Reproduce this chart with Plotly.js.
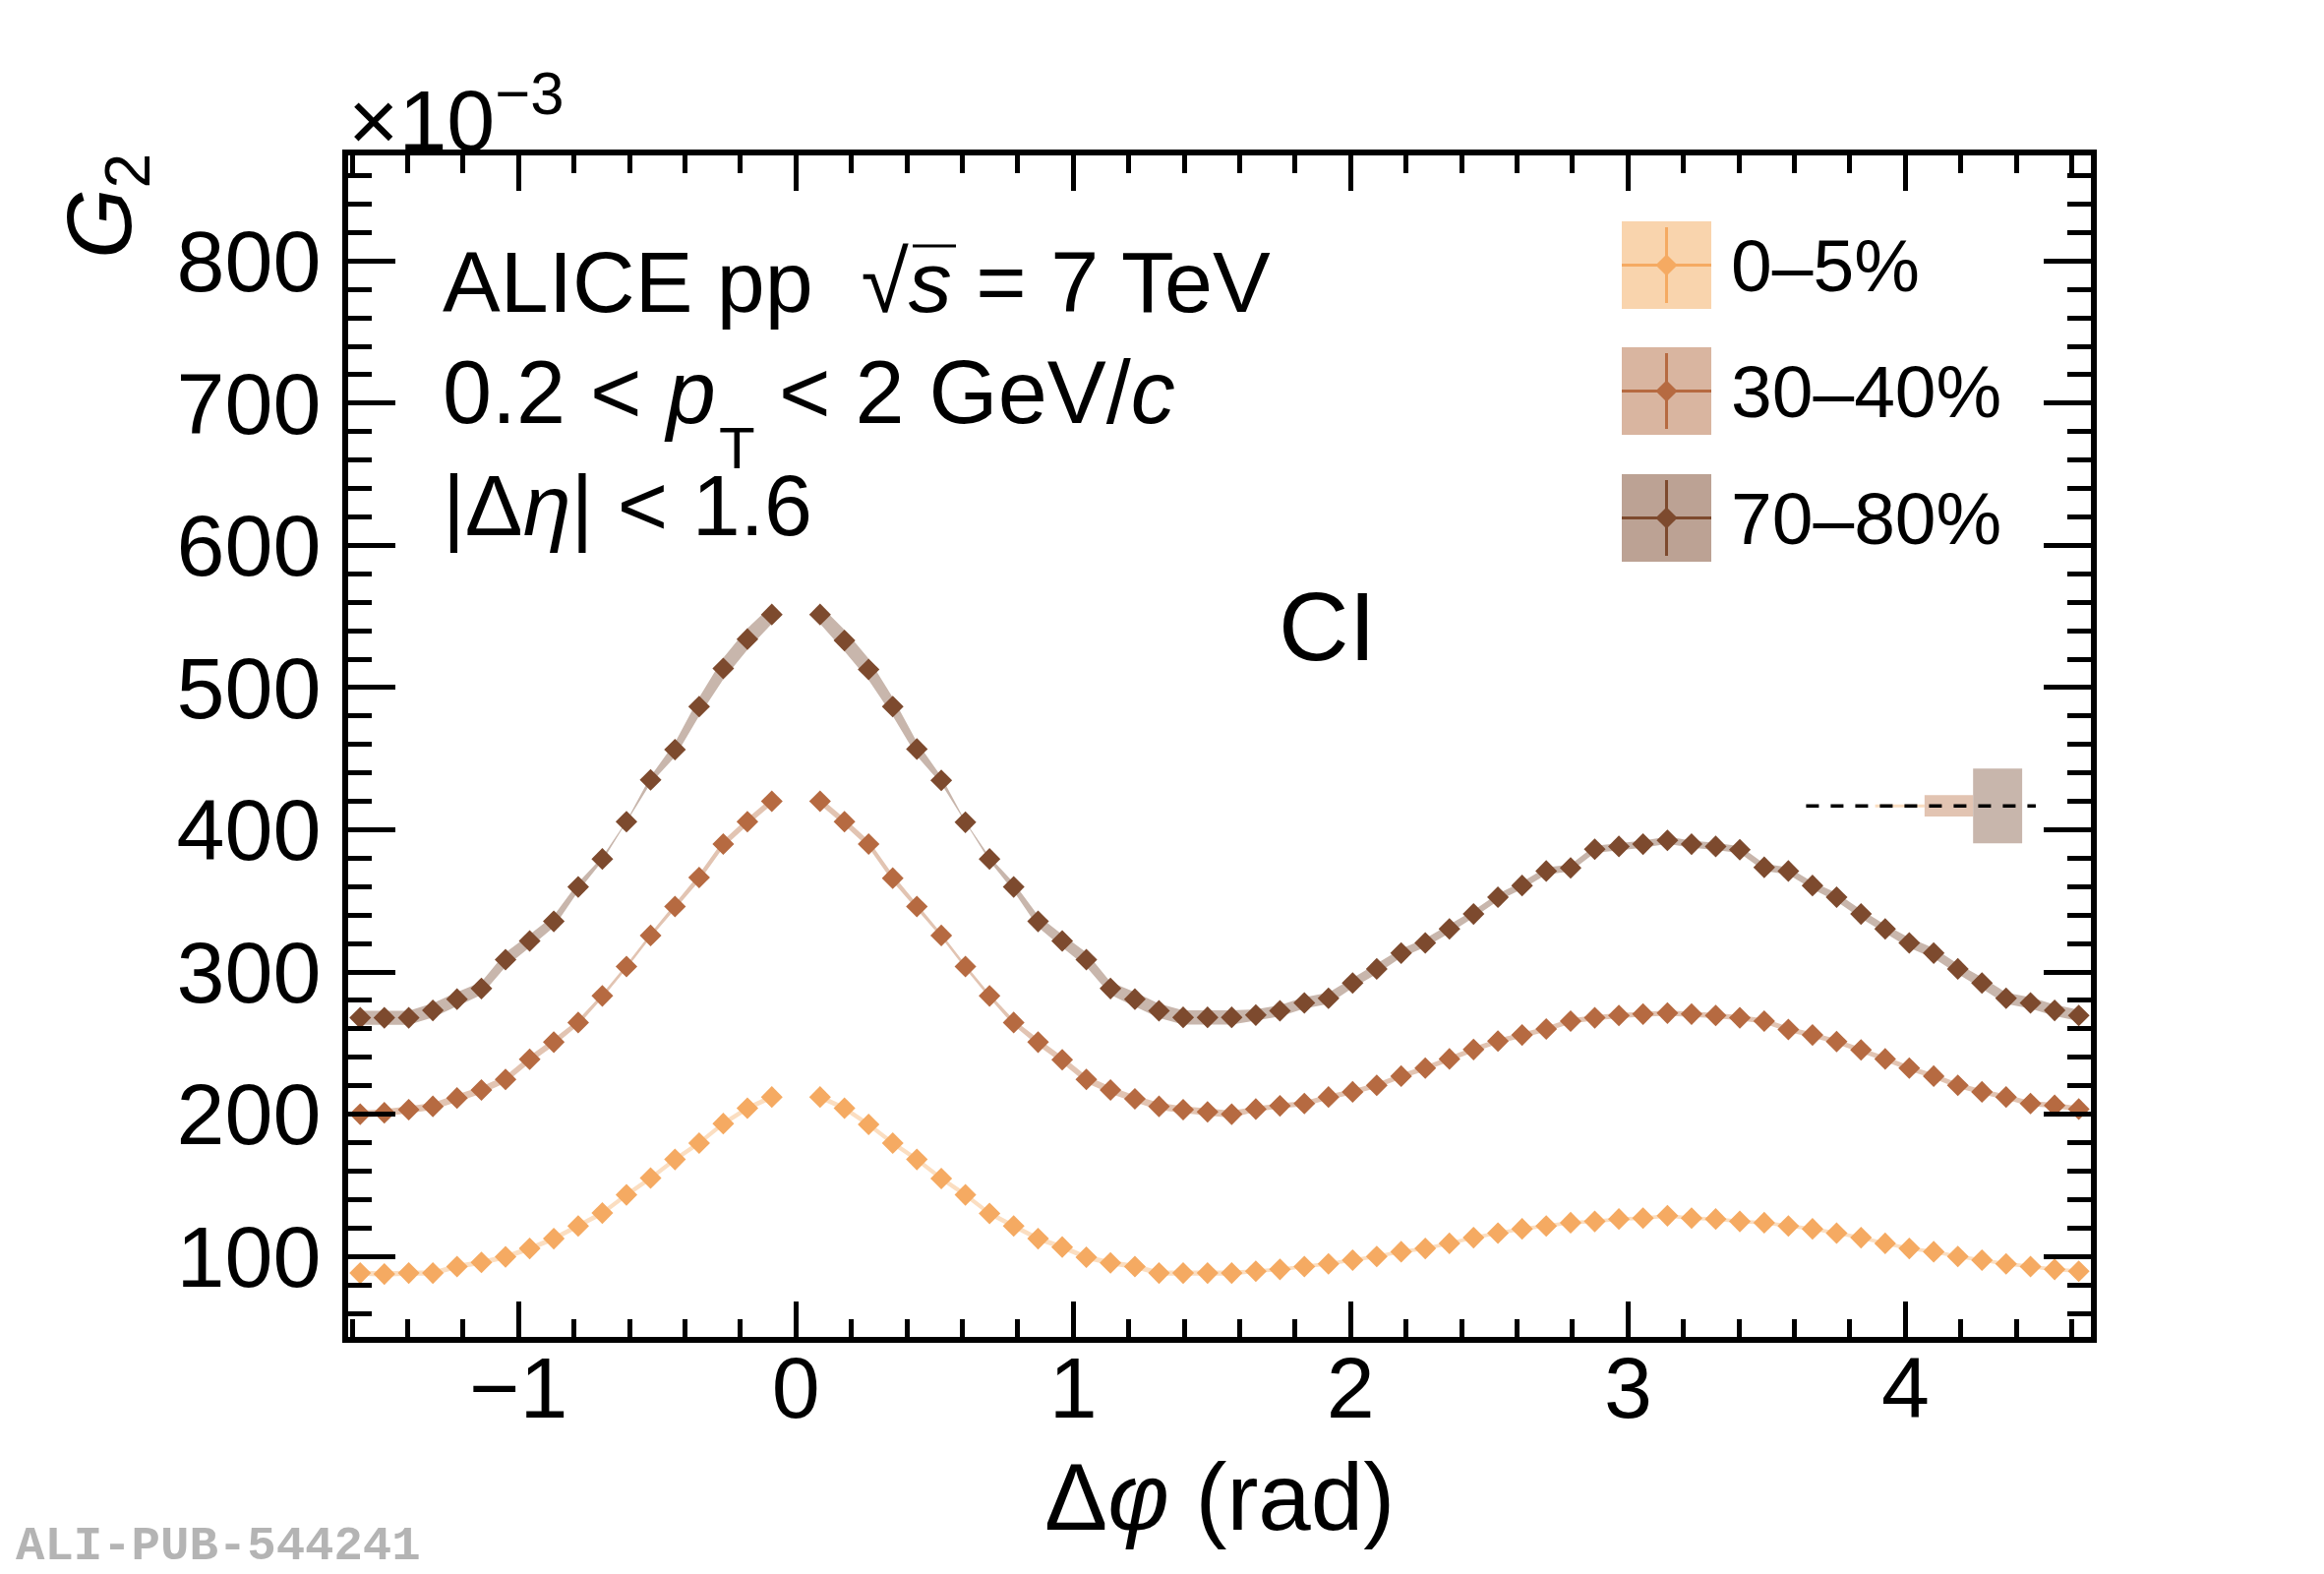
<!DOCTYPE html>
<html>
<head>
<meta charset="utf-8">
<script src="https://cdn.plot.ly/plotly-3.0.1.min.js"></script>
<style>
  body { margin: 0; background: #fff; }
  #chart { width: 2363px; height: 1600px; }
</style>
</head>
<body>
<div id="chart"></div>
<script>
// Δφ bin centres (rad), bin at 0 not shown
const dphi = [
  -1.571, -1.484, -1.396, -1.309, -1.222, -1.134, -1.047, -0.960, -0.873, -0.785,
  -0.698, -0.611, -0.524, -0.436, -0.349, -0.262, -0.175, -0.087,
  0.087, 0.175, 0.262, 0.349, 0.436, 0.524, 0.611, 0.698, 0.785, 0.873,
  0.960, 1.047, 1.134, 1.222, 1.309, 1.396, 1.484, 1.571, 1.658, 1.745,
  1.833, 1.920, 2.007, 2.094, 2.182, 2.269, 2.356, 2.443, 2.531, 2.618,
  2.705, 2.793, 2.880, 2.967, 3.054, 3.142, 3.229, 3.316, 3.403, 3.491,
  3.578, 3.665, 3.752, 3.840, 3.927, 4.014, 4.102, 4.189, 4.276, 4.363,
  4.451, 4.538, 4.625
];

const centralityLabels = ['0–5%', '30–40%', '70–80%'];

// G2 in units of 1e-3
const g2_0005 = [
  88.3, 87.6, 88.3, 88.3, 92.9, 95.8, 99.7, 105.6, 112.5, 121.4,
  130.5, 143.3, 155.1, 168.2, 179.7, 193.4, 204.2, 212.1,
  212.1, 204.2, 192.8, 179.7, 168.2, 154.8, 143.3, 130.2, 121.4, 112.5,
  106.6, 99.4, 95.5, 92.9, 88.3, 88.3, 88.3, 88.3, 89.6, 90.9,
  92.9, 94.8, 97.4, 100.0, 103.3, 105.6, 109.2, 113.2, 116.4, 119.4,
  121.4, 123.7, 124.6, 126.3, 126.9, 128.6, 126.9, 126.3, 124.6, 123.7,
  121.4, 119.4, 116.4, 113.2, 109.2, 105.6, 103.3, 100.0, 97.4, 94.8,
  92.9, 90.9, 89.6
];
const g2_3040 = [
  200.0, 201.0, 203.2, 205.5, 211.4, 217.0, 224.5, 238.6, 250.7, 264.5,
  283.2, 303.8, 325.7, 346.0, 366.4, 390.0, 405.7, 420.1,
  420.1, 405.7, 390.0, 366.0, 346.0, 325.7, 303.8, 283.2, 264.5, 250.7,
  238.3, 224.5, 217.0, 210.8, 205.5, 203.2, 201.6, 200.0, 203.6, 205.9,
  207.5, 212.1, 215.7, 220.3, 226.8, 232.4, 238.9, 245.5, 251.4, 255.7,
  259.9, 265.5, 267.8, 269.4, 270.4, 271.1, 270.4, 269.4, 267.8, 265.5,
  259.6, 255.7, 251.1, 245.2, 238.9, 232.4, 226.8, 220.3, 215.7, 212.1,
  207.5, 206.2, 203.6
];
const g2_7080 = [
  267.8, 267.8, 267.8, 273.0, 280.9, 288.4, 308.7, 321.8, 335.6, 359.8,
  379.5, 405.7, 435.1, 456.4, 486.6, 513.4, 534.1, 551.4,
  551.4, 533.1, 512.8, 486.6, 456.8, 434.8, 405.3, 379.5, 359.8, 335.6,
  321.8, 308.7, 288.4, 280.9, 272.7, 268.1, 268.1, 268.1, 269.7, 272.7,
  278.3, 281.5, 292.3, 302.2, 313.3, 320.5, 330.3, 340.8, 352.6, 360.8,
  371.0, 373.2, 386.3, 388.3, 389.9, 392.6, 389.9, 388.3, 386.0, 373.6,
  371.0, 360.8, 352.6, 340.8, 330.3, 320.5, 313.3, 302.2, 292.3, 281.5,
  278.3, 273.0, 269.4
];

// systematic uncertainties (half width, 1e-3)
const sys_0005 = [
  1.8, 1.8, 1.8, 1.8, 1.8, 1.8, 1.8, 1.8, 1.8, 1.8,
  1.8, 1.8, 1.8, 1.8, 1.8, 1.8, 1.8, 1.8,
  1.8, 1.8, 1.8, 1.8, 1.8, 1.8, 1.8, 1.8, 1.8, 1.8,
  1.8, 1.8, 1.8, 1.8, 1.8, 1.8, 1.8, 1.8, 1.3, 1.3,
  1.3, 1.3, 1.3, 1.3, 1.3, 1.3, 1.3, 1.3, 1.3, 1.3,
  1.3, 1.3, 1.3, 1.3, 1.3, 1.3, 1.3, 1.3, 1.3, 1.3,
  1.3, 1.3, 1.3, 1.3, 1.3, 1.3, 1.3, 1.3, 1.3, 1.3,
  1.3, 1.3, 1.3
];
const sys_3040 = [
  2.5, 2.5, 2.5, 2.5, 2.5, 2.5, 2.5, 2.5, 2.5, 2.0,
  1.5, 1.5, 1.5, 2.0, 2.5, 2.5, 2.5, 2.5,
  2.5, 2.5, 2.5, 2.5, 2.0, 1.5, 1.5, 1.5, 2.0, 2.5,
  2.5, 2.5, 2.5, 2.5, 2.5, 2.5, 2.5, 2.5, 1.8, 1.8,
  1.8, 1.8, 1.8, 1.8, 1.8, 1.8, 1.8, 1.8, 1.8, 1.8,
  1.8, 1.8, 1.8, 1.8, 1.8, 1.8, 1.8, 1.8, 1.8, 1.8,
  1.8, 1.8, 1.8, 1.8, 1.8, 1.8, 1.8, 1.8, 1.8, 1.8,
  1.8, 1.8, 1.8
];
const sys_7080 = [
  5.0, 5.0, 5.0, 5.0, 5.0, 4.5, 5.0, 4.5, 4.0, 3.0,
  1.5, 0.5, 2.5, 5.0, 6.5, 7.5, 7.5, 6.5,
  6.5, 7.5, 7.5, 6.5, 5.0, 2.5, 0.5, 1.5, 3.0, 4.0,
  4.5, 5.0, 4.5, 5.0, 5.0, 5.0, 5.0, 5.0, 4.0, 4.0,
  4.0, 4.0, 3.5, 3.5, 3.0, 3.0, 3.0, 2.5, 2.5, 2.5,
  2.5, 2.5, 2.5, 2.5, 2.5, 2.5, 2.5, 2.5, 2.5, 2.5,
  2.5, 2.5, 3.0, 3.0, 3.0, 3.5, 3.5, 3.5, 4.0, 4.0,
  4.0, 4.0, 4.0
];

// scale (normalisation) uncertainty boxes
const normLevel = 416.8;
const normLeft = [3.891, 4.069, 4.244];
const normRight = [4.069, 4.244, 4.421];
const normHalf = [1.0, 7.5, 26.3];
const normLineX = [3.642, 4.47];

const markerColors = ['#f5aa62', '#b66a41', '#7d4a2e'];
const bandColors = ['#fbdec1', '#e2c4b2', '#c8b6ac'];
const legendBoxColors = ['#f9d4ad', '#d9b5a0', '#bca294'];

const series = [
  { y: g2_0005, sys: sys_0005 },
  { y: g2_3040, sys: sys_3040 },
  { y: g2_7080, sys: sys_7080 }
];

// plot area in pixels
const L = 354, R = 2126, T = 158, B = 1359;
const px = v => (v - L) / (R - L);
const py = v => (B - v) / (B - T);
const FONT = 'Liberation Sans, Arial, sans-serif';

var data = [];

// systematic bands, one polygon each side of the gap at 0
series.forEach((s, i) => {
  var segs = [[], []];
  dphi.forEach((x, k) => segs[x < 0 ? 0 : 1].push(k));
  segs.forEach(idx => {
    var xs = idx.map(k => dphi[k]);
    var up = idx.map(k => s.y[k] + s.sys[k]);
    var lo = idx.map(k => s.y[k] - s.sys[k]);
    data.push({
      x: xs.concat(xs.slice().reverse()),
      y: up.concat(lo.reverse()),
      type: 'scatter', mode: 'lines', fill: 'toself',
      fillcolor: bandColors[i], line: { width: 0 },
      hoverinfo: 'skip', showlegend: false
    });
  });
});

// scale uncertainty boxes
normLeft.forEach((x0, i) => {
  var x1 = normRight[i], h = normHalf[i];
  data.push({
    x: [x0, x1, x1, x0, x0],
    y: [normLevel - h, normLevel - h, normLevel + h, normLevel + h, normLevel - h],
    type: 'scatter', mode: 'lines', fill: 'toself',
    fillcolor: bandColors[i], line: { width: 0 },
    hoverinfo: 'skip', showlegend: false
  });
});
data.push({
  x: normLineX, y: [normLevel, normLevel],
  type: 'scatter', mode: 'lines',
  line: { color: '#000', width: 3.5, dash: '13px,12px' },
  hoverinfo: 'skip', showlegend: false
});

// data points
series.forEach((s, i) => {
  data.push({
    x: dphi, y: s.y, name: centralityLabels[i],
    type: 'scatter', mode: 'markers',
    marker: { symbol: 'diamond', size: 17, color: markerColors[i], line: { width: 0 } },
    showlegend: false
  });
});

// hand-drawn legend (box + cross + marker), pixel coords on overlay axes
var shapes = [];
var annotations = [];
var boxX0 = 1649, boxX1 = 1740;
var boxTops = [225, 353, 482], boxH = 89;
centralityLabels.forEach((lab, i) => {
  var y0 = boxTops[i], y1 = y0 + boxH, yc = (y0 + y1) / 2, xc = (boxX0 + boxX1) / 2;
  shapes.push({
    type: 'rect', xref: 'paper', yref: 'paper', layer: 'below',
    x0: px(boxX0), x1: px(boxX1), y0: py(y0), y1: py(y1),
    fillcolor: legendBoxColors[i], line: { width: 0 }
  });
  data.push({
    x: [boxX0, boxX1, null, xc, xc], y: [yc, yc, null, y0 + 6, y1 - 6],
    xaxis: 'x2', yaxis: 'y2', type: 'scatter', mode: 'lines',
    line: { color: markerColors[i], width: 3 }, hoverinfo: 'skip', showlegend: false
  });
  data.push({
    x: [xc], y: [yc], xaxis: 'x2', yaxis: 'y2', type: 'scatter', mode: 'markers',
    marker: { symbol: 'diamond', size: 17, color: markerColors[i] },
    hoverinfo: 'skip', showlegend: false
  });
  annotations.push({
    text: lab, xref: 'paper', yref: 'paper', x: px(1758), y: py(yc),
    xanchor: 'left', yanchor: 'middle', showarrow: false,
    font: { family: FONT, size: 75, color: '#000' }
  });
});

function ann(text, x, y, size, extra) {
  return Object.assign({
    text: text, xref: 'paper', yref: 'paper', x: px(x), y: py(y),
    xanchor: 'left', yanchor: 'middle', showarrow: false,
    font: { family: FONT, size: size, color: '#000' }
  }, extra || {});
}

annotations.push(ann('ALICE pp  √<i>s</i> = 7 TeV', 448, 286, 88));
annotations.push(ann('0.2 < <i>p</i>', 448, 399, 90));
annotations.push(ann('T', 729, 455, 60));
annotations.push(ann('< 2 GeV/<i>c</i>', 790, 399, 90));
annotations.push(ann('|Δ<i>η</i>| < 1.6', 448, 513, 88));
annotations.push(ann('CI', 1298, 636, 99));
annotations.push(ann('×10<sup>−3</sup>', 352, 116, 88));
annotations.push(ann('Δ<i>φ</i> (rad)', 1240, 1521, 96, { xanchor: 'center' }));
annotations.push(ann('<i>G</i><sub>2</sub>', 108, 210, 92, { xanchor: 'center', textangle: -90 }));
annotations.push(ann('<b>ALI-PUB-544241</b>', 14, 1572, 49, {
  font: { family: 'Liberation Mono, Courier New, monospace', size: 49, color: '#b4b4b4' }
}));

// overline of the square root
shapes.push({
  type: 'line', xref: 'paper', yref: 'paper',
  x0: px(928), x1: px(972), y0: py(250), y1: py(250),
  line: { color: '#000', width: 3 }
});

var layout = {
  width: 2363,
  height: 1600,
  margin: { l: L, r: 2363 - R, t: T, b: 1600 - B },
  paper_bgcolor: '#fff',
  plot_bgcolor: '#fff',
  showlegend: false,
  xaxis: {
    range: [-1.6144, 4.6688],
    showgrid: false, zeroline: false,
    showline: true, linecolor: '#000', linewidth: 6, mirror: 'allticks',
    ticks: 'inside', ticklen: 36, tickwidth: 5, tickcolor: '#000',
    tick0: 0, dtick: 1,
    minor: { dtick: 0.2, ticks: 'inside', ticklen: 18, tickwidth: 5, tickcolor: '#000' },
    tickfont: { family: FONT, size: 88, color: '#000' },
    ticklabelstandoff: -30
  },
  yaxis: {
    range: [43.4, 874.2],
    showgrid: false, zeroline: false,
    showline: true, linecolor: '#000', linewidth: 6, mirror: 'allticks',
    ticks: 'inside', ticklen: 48, tickwidth: 5, tickcolor: '#000',
    tick0: 0, dtick: 100,
    minor: { dtick: 20, ticks: 'inside', ticklen: 24, tickwidth: 5, tickcolor: '#000' },
    tickfont: { family: FONT, size: 88, color: '#000' },
    ticklabelstandoff: 4
  },
  xaxis2: { overlaying: 'x', anchor: 'y2', range: [L, R], visible: false, fixedrange: true },
  yaxis2: { overlaying: 'y', anchor: 'x2', range: [B, T], visible: false, fixedrange: true },
  shapes: shapes,
  annotations: annotations
};

Plotly.newPlot('chart', data, layout, { displayModeBar: false, staticPlot: true });
</script>
</body>
</html>
